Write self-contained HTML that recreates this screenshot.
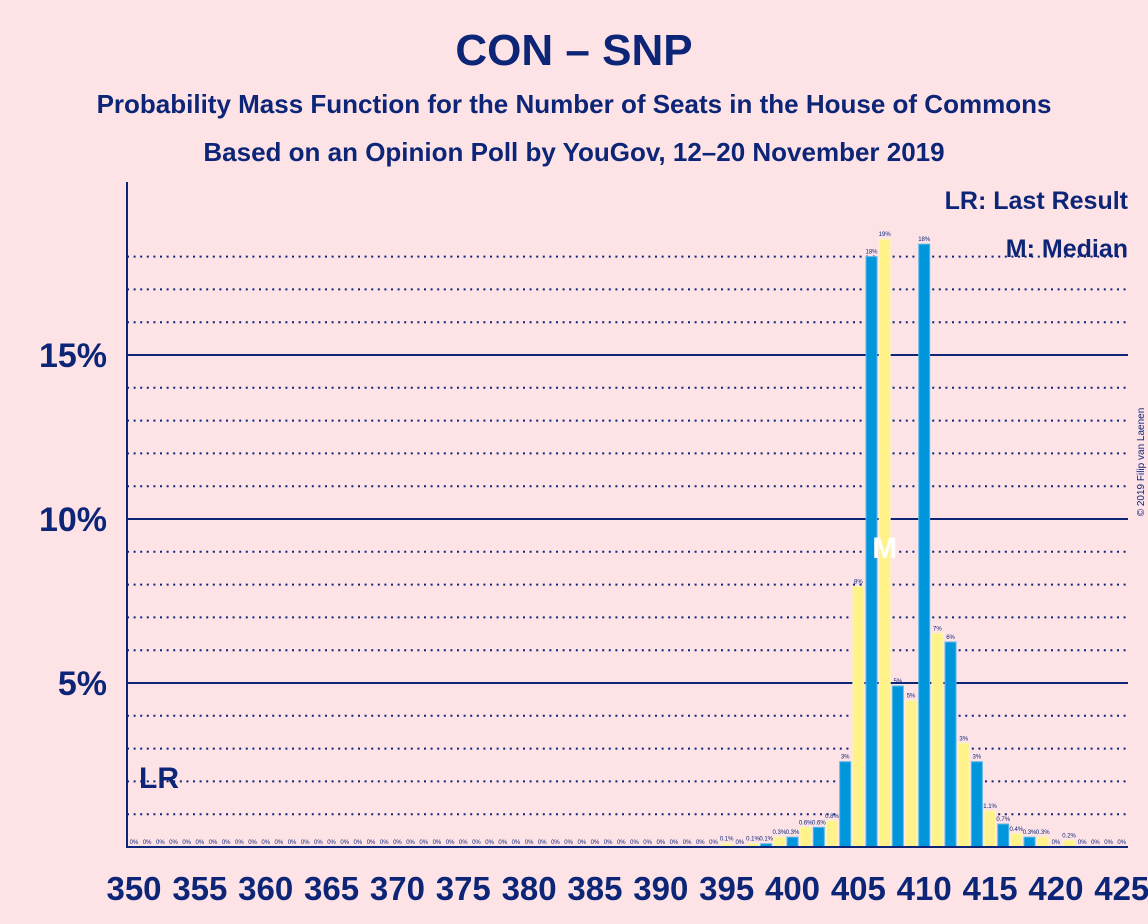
<!DOCTYPE html>
<html><head><meta charset="utf-8"><style>
body{margin:0;background:#fde3e6;}
svg{display:block;font-family:"Liberation Sans",sans-serif;}
</style></head><body>
<svg id="c" width="1148" height="924">
<rect width="1148" height="924" fill="#fde3e6"/>
<text x="574" y="65" text-anchor="middle" font-size="44" font-weight="bold" fill="#0c2577">CON – SNP</text>
<text x="574" y="113" text-anchor="middle" font-size="26" font-weight="bold" fill="#0c2577">Probability Mass Function for the Number of Seats in the House of Commons</text>
<text x="574" y="161" text-anchor="middle" font-size="26" font-weight="bold" fill="#0c2577">Based on an Opinion Poll by YouGov, 12–20 November 2019</text>
<text x="1144" y="462" transform="rotate(-90 1144 462)" text-anchor="middle" font-size="10" fill="#0c2577">© 2019 Filip van Laenen</text>
<g id="grid"></g>
<g id="bars"></g>
<g id="axes"></g>
<text x="1128" y="209" text-anchor="end" font-size="25" font-weight="bold" fill="#0c2577">LR: Last Result</text>
<text x="1128" y="257" text-anchor="end" font-size="25" font-weight="bold" fill="#0c2577">M: Median</text>
</svg>
<script>
const seats=[];for(let s=350;s<=425;s++)seats.push(s);
const probs=[0,0,0,0,0,0,0,0,0,0, 0,0,0,0,0,0,0,0,0,0, 0,0,0,0,0,0,0,0,0,0, 0,0,0,0,0,0,0,0,0,0, 0,0,0,0,0,0.1,0,0.1,0.1,0.3,
0.3,0.6,0.6,0.8,2.6,7.94,18.0,18.53,4.91,4.46, 18.38,6.51,6.25,3.16,2.6,1.1,0.7,0.4,0.3,0.3, 0,0.2,0,0,0,0];
const labels=probs.map(v=>v===0?"0%":(v<1.5?v.toFixed(1)+"%":Math.round(v)+"%"));
labels[59]="5%";
const yTicks=[5,10,15];
const xTicks=[350,355,360,365,370,375,380,385,390,395,400,405,410,415,420,425];
const lastResult=350, median=407;
const NS="http://www.w3.org/2000/svg";
const x0=127,x1=1128,y0=847;
const X=s=>134+(s-350)*13.17;
const Y=v=>y0-v*32.8;
function mk(t,a,p){const e=document.createElementNS(NS,t);for(const k in a)e.setAttribute(k,a[k]);p.appendChild(e);return e;}
const grid=document.getElementById('grid'),bars=document.getElementById('bars'),axes=document.getElementById('axes');
for(let v=1;v<=18;v++){
 const solid=yTicks.includes(v);
 const l=mk('line',{x1:x0,x2:x1,y1:Y(v),y2:Y(v),stroke:'#0c2577','stroke-width':2,'stroke-dasharray':solid?'':'2 4.6'},grid);
 
 
}
yTicks.forEach(v=>{
 const t=mk('text',{x:107,y:Y(v)+12,'text-anchor':'end','font-size':34,'font-weight':'bold',fill:'#0c2577'},axes);
 t.textContent=v+'%';
 
 
});
seats.forEach((s,i)=>{
 const v=probs[i];
 if(v>0){
  const r=mk('rect',{x:X(s)-5.5,y:Y(v),width:11,height:y0-Y(v),fill:s%2===0?'#0096db':'#fff28a',stroke:s%2===0?'#5ab8e8':'#fff6b0','stroke-width':1},bars);
  
  
 }
 const t=mk('text',{x:X(s),y:Y(v)-3,'text-anchor':'middle','font-size':6,fill:'#0c2577'},bars);
 t.textContent=labels[i];
 
 
});
const m=mk('text',{x:X(median),y:558,'text-anchor':'middle','font-size':30,'font-weight':'bold',fill:'#ffffff'},bars);
m.textContent='M';


const lr=mk('text',{x:X(lastResult)+5,y:788,'font-size':30,'font-weight':'bold',fill:'#0c2577'},bars);
lr.textContent='LR';


const ya=mk('line',{x1:x0,x2:x0,y1:182,y2:y0+1,stroke:'#0c2577','stroke-width':2},axes);


const xa=mk('line',{x1:x0-1,x2:x1,y1:y0,y2:y0,stroke:'#0c2577','stroke-width':2},axes);


xTicks.forEach(s=>{
 const t=mk('text',{x:X(s),y:900,'text-anchor':'middle','font-size':33,'font-weight':'bold',fill:'#0c2577'},axes);
 t.textContent=s;
 
 
});
</script>
</body></html>
